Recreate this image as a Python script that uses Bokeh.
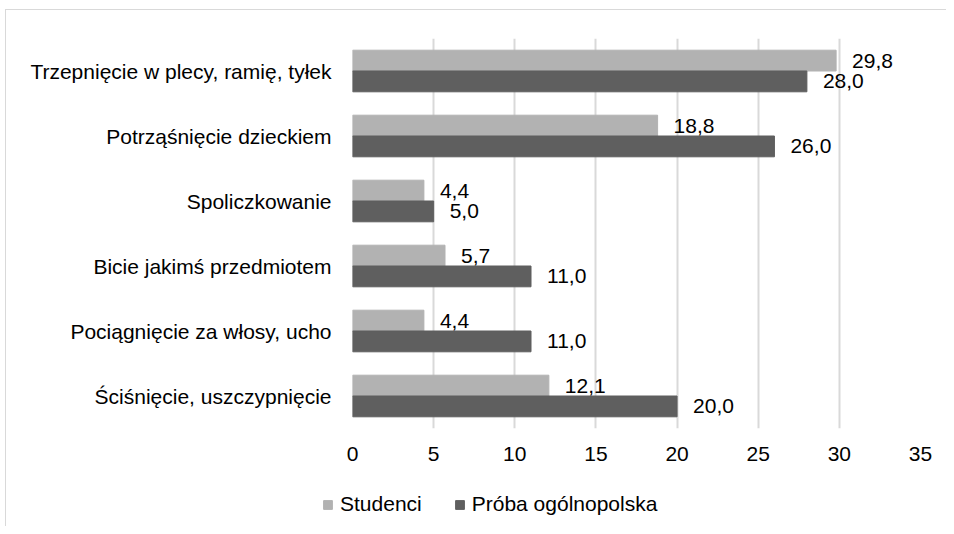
from bokeh.plotting import figure
from bokeh.layouts import column
from bokeh.models import ColumnDataSource, Legend, LegendItem, FixedTicker
from bokeh.transform import dodge
from bokeh.core.properties import value
from bokeh.embed import file_html
from bokeh.resources import INLINE

categories = [
    "Trzepnięcie w plecy, ramię, tyłek",
    "Potrząśnięcie dzieckiem",
    "Spoliczkowanie",
    "Bicie jakimś przedmiotem",
    "Pociągnięcie za włosy, ucho",
    "Ściśnięcie, uszczypnięcie",
]
studenci = [29.8, 18.8, 4.4, 5.7, 4.4, 12.1]
proba = [28.0, 26.0, 5.0, 11.0, 11.0, 20.0]
series_names = ["Studenci", "Próba ogólnopolska"]
x_ticks = [0, 5, 10, 15, 20, 25, 30, 35]

LIGHT = "#b2b2b2"
DARK = "#5f5f5f"
GRID = "#d9d9d9"
FONT = "Liberation Sans"
FS = "21px"

def fmt(v):
    return f"{v:.1f}".replace(".", ",")

source = ColumnDataSource(dict(
    cat=categories,
    s=studenci,
    p=proba,
    s_lab=[fmt(v) for v in studenci],
    p_lab=[fmt(v) for v in proba],
))

factors = list(reversed(categories))

p = figure(
    width=940, height=460,
    y_range=factors, x_range=(0, 35),
    output_backend="svg", toolbar_location=None,
    min_border_left=346, min_border_right=26,
    min_border_top=28, min_border_bottom=42,
)
p.outline_line_color = None

bw = 0.32
r1 = p.hbar(y=dodge("cat", bw / 2, range=p.y_range), right="s", left=0, height=bw,
            source=source, fill_color=LIGHT, line_color=LIGHT)
r2 = p.hbar(y=dodge("cat", -bw / 2, range=p.y_range), right="p", left=0, height=bw,
            source=source, fill_color=DARK, line_color=DARK)

p.text(x="s", y=dodge("cat", bw / 2, range=p.y_range), text="s_lab", source=source,
       x_offset=16, text_baseline="middle", text_align="left",
       text_font=value(FONT), text_font_size=FS, text_color="#000000")
p.text(x="p", y=dodge("cat", -bw / 2, range=p.y_range), text="p_lab", source=source,
       x_offset=16, text_baseline="middle", text_align="left",
       text_font=value(FONT), text_font_size=FS, text_color="#000000")

p.xaxis.ticker = FixedTicker(ticks=x_ticks)
p.xaxis.axis_line_color = None
p.xaxis.major_tick_line_color = None
p.xaxis.minor_tick_line_color = None
p.xaxis.major_label_text_font = FONT
p.xaxis.major_label_text_font_size = FS
p.xaxis.major_label_text_color = "#000000"
p.xaxis.major_label_standoff = 12

p.yaxis.axis_line_color = None
p.yaxis.major_tick_line_color = None
p.yaxis.minor_tick_line_color = None
p.yaxis.major_label_text_font = FONT
p.yaxis.major_label_text_font_size = FS
p.yaxis.major_label_text_color = "#000000"
p.yaxis.major_label_standoff = 15

p.xgrid.grid_line_color = GRID
p.xgrid.grid_line_width = 2
p.ygrid.grid_line_color = None

# legend strip below the chart (own frame, not aligned with the chart's frame)
lg = figure(
    width=940, height=56, x_range=(0, 1), y_range=(0, 1),
    output_backend="svg", toolbar_location=None,
    min_border=0,
)
lg.frame_align = False
lg.outline_line_color = None
lg.axis.visible = False
lg.grid.visible = False
# zero-width, out-of-view proxies that only carry the legend swatch styles
e1 = lg.hbar(y="s", left="s", right="s", height=0.01, source=source,
             fill_color=LIGHT, line_color=LIGHT)
e2 = lg.hbar(y="p", left="p", right="p", height=0.01, source=source,
             fill_color=DARK, line_color=DARK)

legend = Legend(items=[
    LegendItem(label=series_names[0], renderers=[e1]),
    LegendItem(label=series_names[1], renderers=[e2]),
], orientation="horizontal", location=(316, 10))
legend.border_line_color = None
legend.background_fill_alpha = 0
legend.label_text_font = FONT
legend.label_text_font_size = FS
legend.label_text_color = "#000000"
legend.glyph_width = 11
legend.glyph_height = 11
legend.label_standoff = 7
legend.spacing = 32
legend.margin = 0
legend.padding = 0
lg.add_layout(legend, "center")

layout = column(p, lg, spacing=0)
layout.styles = {
    "margin-left": "5px",
    "margin-top": "9px",
    "border-left": "1px solid #d9d9d9",
    "border-top": "1px solid #d9d9d9",
}

open("out.html", "w").write(file_html(layout, INLINE))
